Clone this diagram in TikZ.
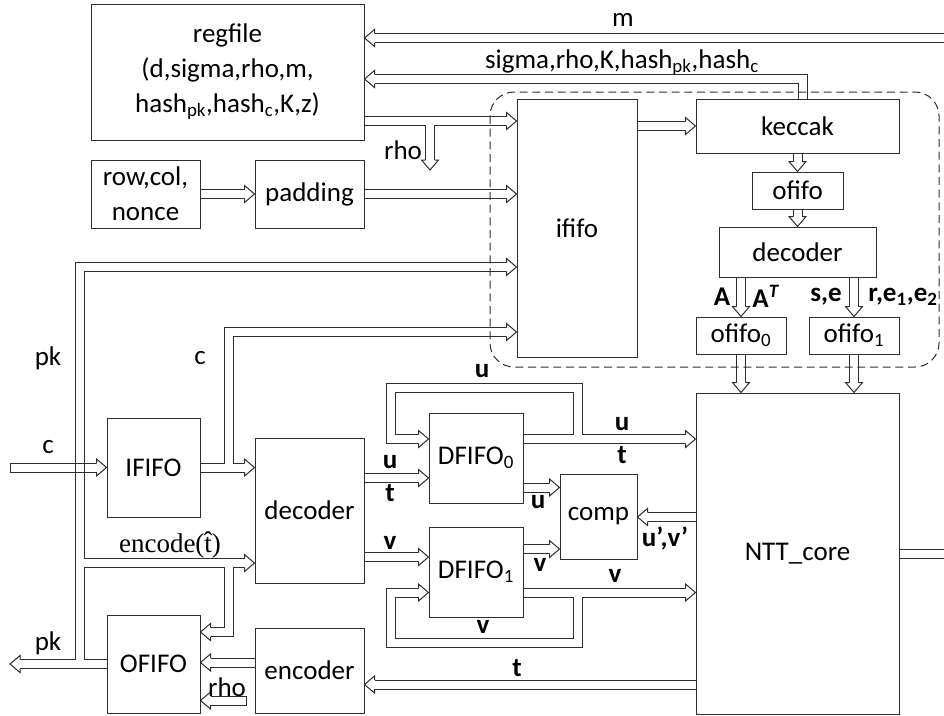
\documentclass[tikz,border=0pt]{standalone}
\usepackage{fontspec}
\setmainfont{Carlito}
\newfontfamily\lserif{Liberation Serif}
\pgfdeclarelayer{wback}
\pgfdeclarelayer{wfront}
\pgfsetlayers{wback,wfront,main}
\definecolor{ln}{gray}{0.18}
\newcommand\fs{\fontsize{20.25}{26.25}\selectfont}
\newcommand\wire[2][]{%
  \begin{pgfonlayer}{wback}\draw[wout,#1] #2;\end{pgfonlayer}%
  \begin{pgfonlayer}{wfront}\draw[win,#1] #2;\end{pgfonlayer}}
\newcommand\mkbox[6]{\node[blk, minimum width={(#4-#2)*0.75pt}, minimum height={(#5-#3)*0.75pt}] (#1) at ({(#2+#4)/2},{(#3+#5)/2}) {#6};}
\tikzset{
  wout/.style={line width=7.5pt, draw=ln},
  win/.style={line width=6pt, draw=white},
  tipgap/.style={shorten >=7.5pt},
  wl/.style={draw=ln, line width=0.75pt},
  blk/.style={draw=ln, line width=0.75pt, fill=white, inner sep=0pt, align=center, font=\fs},
  lbl/.style={font=\fs, inner sep=0pt},
  blbl/.style={font=\fs\bfseries, inner sep=0pt},
  ahead/.pic={
    \fill[white] (0,0)--(-10,8.5)--(-10,-8.5)--cycle;
    \draw[wl, line join=miter] (-10,4.5)--(-10,8.5)--(0,0)--(-10,-8.5)--(-10,-4.5);}
}
\begin{document}
\begin{tikzpicture}[x=0.75pt, y=-0.75pt]
\useasboundingbox (0,0) rectangle (944,715);
% boxes
\mkbox{regfile}{91}{4}{364}{140}{regfile\\(d,sigma,rho,m,\\hash\textsubscript{pk},hash\textsubscript{c},K,z)}
\mkbox{rowcol}{91}{160}{200}{228}{row,col,\\nonce}
\mkbox{padding}{255}{160}{364}{228}{padding}
\mkbox{ififo}{517}{99}{637}{357}{ififo}
\mkbox{keccak}{696}{99}{899}{153}{keccak}
\mkbox{ofifo}{752}{172}{843}{209}{ofifo}
\mkbox{kdec}{719}{227}{876}{277}{decoder}
\mkbox{ofA}{696}{317}{786}{354}{ofifo\textsubscript{0}}
\mkbox{ofB}{809}{317}{899}{354}{ofifo\textsubscript{1}}
\mkbox{ntt}{696}{393}{899}{714}{NTT\_core}
\mkbox{ififoL}{107}{418}{200}{517}{IFIFO}
\mkbox{dec}{255}{438}{364}{583}{decoder}
\mkbox{ofifoL}{107}{615}{200}{713}{OFIFO}
\mkbox{enc}{255}{628}{364}{713}{encoder}
\mkbox{df0}{429}{413}{523}{503}{DFIFO\textsubscript{0}}
\mkbox{df1}{429}{527}{523}{617}{DFIFO\textsubscript{1}}
\mkbox{comp}{560}{474}{637}{559}{comp}
% dashed frame
\draw[draw=ln, line width=0.75pt, dash pattern=on 6pt off 3.5pt, rounded corners=18pt] (490,92) rectangle (939,367);
% free ends
\coordinate (mR) at (944,38);
\coordinate (nR) at (944,554);
\coordinate (pkO) at (10,664);
\coordinate (rhoD) at (430,170);
\coordinate (rhoT) at (ofifoL.east |- 0,700.5);
% wires
\wire[tipgap]{(mR) -- (regfile.east |- mR)}
\pic[rotate=180] at (regfile.east |- mR) {ahead};
\wire[tipgap]{(keccak.north -| 803,0) |- (regfile.east |- 0,79)}
\pic[rotate=180] at (regfile.east |- 0,79) {ahead};
\wire[tipgap]{(regfile.east |- 0,121) -- (ififo.west |- 0,121)}
\pic at (ififo.west |- 0,121) {ahead};
\wire[tipgap]{(rhoD |- 0,121) -- (rhoD)}
\pic[rotate=-90] at (rhoD) {ahead};
\wire[tipgap]{(padding.east) -- (ififo.west |- padding.east)}
\pic at (ififo.west |- padding.east) {ahead};
\wire[tipgap]{(rowcol.east) -- (padding.west)}
\pic at (padding.west) {ahead};
\wire[tipgap]{(ififo.east |- 0,126) -- (keccak.west |- 0,126)}
\pic at (keccak.west |- 0,126) {ahead};
\wire[tipgap]{(keccak.south -| ofifo.north) -- (ofifo.north)}
\pic[rotate=-90] at (ofifo.north) {ahead};
\wire[tipgap]{(ofifo.south) -- (kdec.north -| ofifo.south)}
\pic[rotate=-90] at (kdec.north -| ofifo.south) {ahead};
\wire[tipgap]{(kdec.south -| ofA.north) -- (ofA.north)}
\pic[rotate=-90] at (ofA.north) {ahead};
\wire[tipgap]{(kdec.south -| ofB.north) -- (ofB.north)}
\pic[rotate=-90] at (ofB.north) {ahead};
\wire[tipgap]{(ofA.south) -- (ntt.north -| ofA.south)}
\pic[rotate=-90] at (ntt.north -| ofA.south) {ahead};
\wire[tipgap]{(ofB.south) -- (ntt.north -| ofB.south)}
\pic[rotate=-90] at (ntt.north -| ofB.south) {ahead};
% pk network
\wire[tipgap]{(ofifoL.west) -- (pkO)}
\pic[rotate=180] at (pkO) {ahead};
\wire[tipgap]{(80,664) |- (ififo.west |- 0,267)}
\pic at (ififo.west |- 0,267) {ahead};
\wire[tipgap]{(80,563) -- (dec.west |- 0,563)}
\pic at (dec.west |- 0,563) {ahead};
\wire[tipgap]{(228.5,563) |- (ofifoL.east |- 0,632)}
\pic[rotate=180] at (ofifoL.east |- 0,632) {ahead};
% IFIFO out
\wire[tipgap]{(ififoL.east) -- (dec.west |- ififoL.east)}
\pic at (dec.west |- ififoL.east) {ahead};
\wire[tipgap]{(228.5,467.5) |- (ififo.west |- 0,332)}
\pic at (ififo.west |- 0,332) {ahead};
% c input
\draw[wl] ([shift={(-10,-4.5)}]ififoL.west) -- (10,463) -- (10,472) -- ([shift={(-10,4.5)}]ififoL.west);
\pic at (ififoL.west) {ahead};
% decoder outputs
\wire[tipgap]{(dec.east |- 0,478) -- (df0.west |- 0,478)}
\pic at (df0.west |- 0,478) {ahead};
\wire[tipgap]{(dec.east |- 0,557) -- (df1.west |- 0,557)}
\pic at (df1.west |- 0,557) {ahead};
% DFIFO0
\wire[tipgap]{(df0.east |- 0,439) -- (ntt.west |- 0,439)}
\pic at (ntt.west |- 0,439) {ahead};
\wire[tipgap]{(577.5,439) |- (390.5,387.5) |- (df0.west |- 0,439)}
\pic at (df0.west |- 0,439) {ahead};
% DFIFO1
\wire[tipgap]{(df1.east |- 0,592.5) -- (ntt.west |- 0,592.5)}
\pic at (ntt.west |- 0,592.5) {ahead};
\wire[tipgap]{(577.5,592.5) |- (390.5,642.5) |- (df1.west |- 0,592.5)}
\pic at (df1.west |- 0,592.5) {ahead};
% comp
\wire[tipgap]{(df0.east |- 0,487.5) -- (comp.west |- 0,487.5)}
\pic at (comp.west |- 0,487.5) {ahead};
\wire[tipgap]{(df1.east |- 0,549) -- (comp.west |- 0,549)}
\pic at (comp.west |- 0,549) {ahead};
\wire[tipgap]{(ntt.west |- 0,517) -- (comp.east |- 0,517)}
\pic[rotate=180] at (comp.east |- 0,517) {ahead};
% NTT outputs
\wire{(ntt.east |- nR) -- (nR)}
\wire[tipgap]{(ntt.west |- 0,684.5) -- (enc.east |- 0,684.5)}
\pic[rotate=180] at (enc.east |- 0,684.5) {ahead};
\wire[tipgap]{(enc.west |- 0,662.5) -- (ofifoL.east |- 0,662.5)}
\pic[rotate=180] at (ofifoL.east |- 0,662.5) {ahead};
% rho into OFIFO
\draw[wl] ([shift={(10,-4.5)}]rhoT) -- (246,696) -- (246,705) -- ([shift={(10,4.5)}]rhoT);
\pic[rotate=180] at (rhoT) {ahead};
% labels
\node[lbl] (l1) at (623,20) {m};
\node[lbl] (l2) at (622,63) {sigma,rho,K,hash\textsubscript{pk},hash\textsubscript{c}};
\node[lbl] (l3) at (403,150) {rho};
\node[lbl] (l4) at (48,358) {pk};
\node[lbl] (l5) at (200,358) {c};
\node[lbl] (l6) at (48,447) {c};
\node[lbl] (l7) at (48,643) {pk};
\node[lbl, font=\fs\lserif] (l8) at (170,545) {encode(\^{t})};
\node[lbl] (l9) at (227,687) {rho};
\node[blbl] (b1) at (390,462) {u};
\node[blbl] (b2) at (390,493) {t};
\node[blbl] (b3) at (390,543) {v};
\node[blbl] (b4) at (482,371) {u};
\node[blbl] (b5) at (622,424) {u};
\node[blbl] (b6) at (622,455) {t};
\node[blbl] (b7) at (538,502) {u};
\node[blbl] (b8) at (540,565) {v};
\node[blbl] (b9) at (615,576) {v};
\node[blbl] (b10) at (483,627) {v};
\node[blbl] (b11) at (665,538) {u’,v’};
\node[blbl] (b12) at (517,668) {t};
\node[blbl] (b13) at (722,297) {A};
\node[blbl] (b14) at (766,296) {A\textsuperscript{\textit{T}}};
\node[blbl] (b15) at (826,297) {s,e};
\node[blbl] (b16) at (903,297) {r,e\textsubscript{1},e\textsubscript{2}};
\end{tikzpicture}
\end{document}
